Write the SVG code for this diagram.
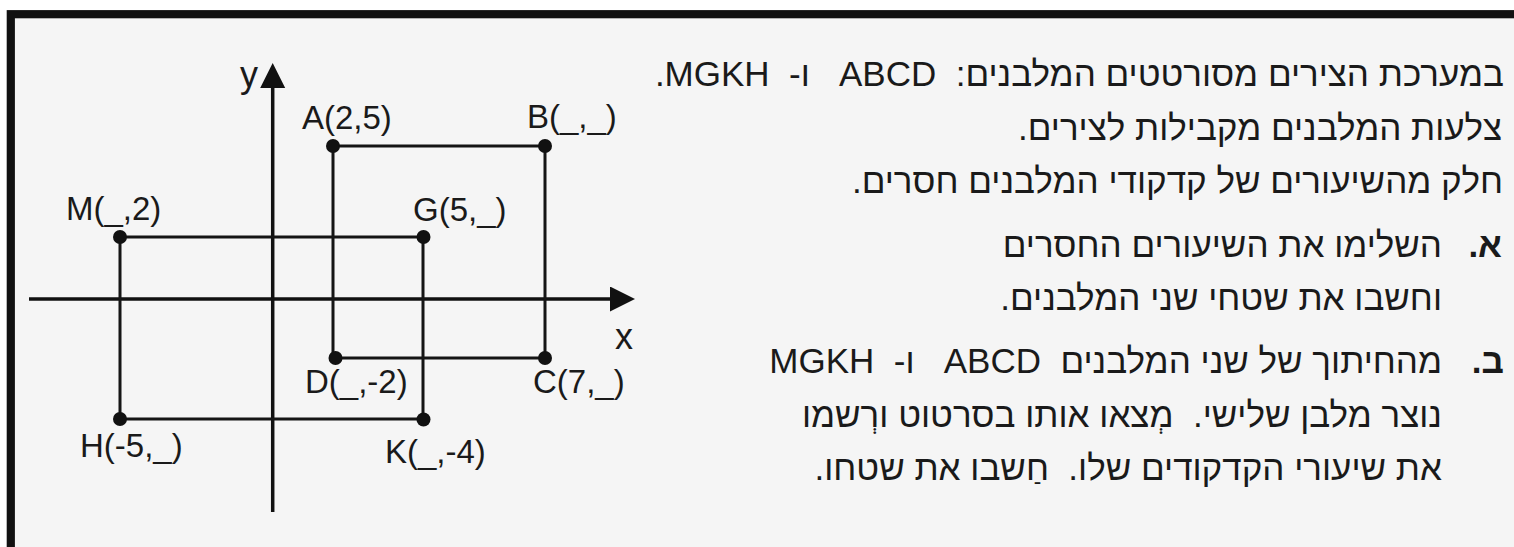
<svg xmlns="http://www.w3.org/2000/svg" width="1514" height="547" viewBox="0 0 1514 547">
<style>
.lb{font-family:"Liberation Sans","DejaVu Sans",sans-serif;font-size:33px;fill:#1a1a1a}
.ax{font-family:"Liberation Sans","DejaVu Sans",sans-serif;font-size:36px;fill:#1a1a1a}
.he{font-family:"Liberation Sans","DejaVu Sans",sans-serif;font-size:35px;fill:#1a1a1a;direction:rtl;text-anchor:start}
.b{font-weight:bold}
.edge{fill:none;stroke:#151515;stroke-width:3}
.axis{fill:none;stroke:#111;stroke-width:3.5}
.dot{fill:#111}
</style>
<defs>
<marker id="arr" markerUnits="userSpaceOnUse" markerWidth="26" markerHeight="26" refX="0" refY="12.5" orient="auto" viewBox="0 0 26 26">
<path d="M0,0 L25,12.5 L0,25 Z" fill="#111"/>
</marker>
</defs>
<rect x="0" y="0" width="1514" height="547" fill="#ffffff"/>
<rect id="frame" x="10.8" y="14.2" width="1540" height="560" fill="#f5f5f5" stroke="#111" stroke-width="8.2"/>
<g id="connectors">
<line class="axis" x1="272.7" y1="512" x2="272.7" y2="88" marker-end="url(#arr)"/>
<line class="axis" x1="29" y1="299" x2="610" y2="299" marker-end="url(#arr)"/>
<polygon class="edge" points="333,146 545,146 545,358 333,358"/>
<polygon class="edge" points="120,237 423,237 423,419 120,419"/>
</g>
<g id="axis-labels">
<text class="ax" x="240" y="87">y</text>
<text class="ax" x="615" y="349">x</text>
</g>
<g id="node-A"><circle class="dot" cx="333" cy="146" r="7"/><text class="lb" x="302" y="129">A(2,5)</text></g>
<g id="node-B"><circle class="dot" cx="545" cy="146" r="7"/><text class="lb" x="527" y="128">B(_,_)</text></g>
<g id="node-C"><circle class="dot" cx="545" cy="358" r="7"/><text class="lb" x="533" y="393">C(7,_)</text></g>
<g id="node-D"><circle class="dot" cx="335.5" cy="358" r="7"/><text class="lb" x="305" y="393">D(_,-2)</text></g>
<g id="node-M"><circle class="dot" cx="120" cy="237" r="7"/><text class="lb" x="66" y="220">M(_,2)</text></g>
<g id="node-G"><circle class="dot" cx="423.5" cy="237" r="7"/><text class="lb" x="413" y="221">G(5,_)</text></g>
<g id="node-K"><circle class="dot" cx="423.5" cy="419.5" r="7"/><text class="lb" x="385" y="463">K(_,-4)</text></g>
<g id="node-H"><circle class="dot" cx="120" cy="419" r="7"/><text class="lb" x="80" y="457">H(-5,_)</text></g>
<g id="question">
<text class="he" x="1504" y="86">במערכת הצירים מסורטטים המלבנים:&#160; ABCD&#160;&#160; ו-&#160; MGKH.</text>
<text class="he" x="1502" y="140">צלעות המלבנים מקבילות לצירים.</text>
<text class="he" x="1503" y="193">חלק מהשיעורים של קדקודי המלבנים חסרים.</text>
<text class="he b" x="1502" y="257">א.</text>
<text class="he" x="1442" y="257">השלימו את השיעורים החסרים</text>
<text class="he" x="1442" y="310">וחשבו את שטחי שני המלבנים.</text>
<text class="he b" x="1504" y="373">ב.</text>
<text class="he" x="1442" y="373">מהחיתוך של שני המלבנים&#160; ABCD&#160;&#160; ו-&#160; MGKH</text>
<text class="he" x="1442" y="427">נוצר מלבן שלישי.&#160; מְצאו אותו בסרטוט ורְשמו</text>
<text class="he" x="1442" y="480">את שיעורי הקדקודים שלו.&#160; חַשבו את שטחו.</text>
</g>
</svg>
